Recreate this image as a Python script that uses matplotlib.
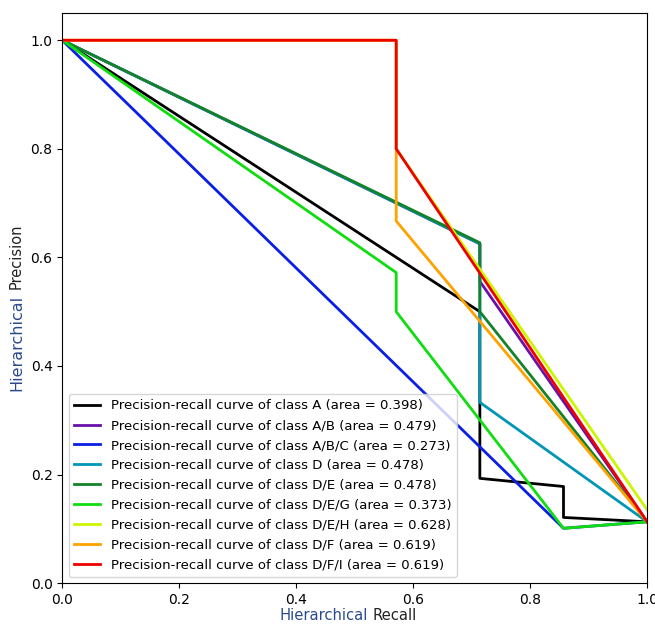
import matplotlib
matplotlib.use("Agg")
import matplotlib.pyplot as plt

OUTPUT_GRAPH_FILE = "out.png"

# class names and their areas, as shown in the legend
classes = ["A", "A/B", "A/B/C", "D", "D/E", "D/E/G", "D/E/H", "D/F", "D/F/I"]
areas = [0.398, 0.479, 0.273, 0.478, 0.478, 0.373, 0.628, 0.619, 0.619]
colors = ["#000000", "#6a10a8", "#0a1ee6", "#0096b4", "#14822a",
          "#10dd10", "#ccf500", "#ffa200", "#ee0000"]

# recall / precision points of each curve
recall_A = [0.0, 0.714, 0.714, 0.857, 0.857, 1.0]
precision_A = [1.0, 0.5, 0.193, 0.178, 0.121, 0.113]

recall_AB = [0.0, 0.714, 0.714, 1.0]
precision_AB = [1.0, 0.625, 0.556, 0.113]

recall_ABC = [0.0, 0.857, 1.0]
precision_ABC = [1.0, 0.101, 0.113]

recall_D = [0.0, 0.714, 0.714, 1.0]
precision_D = [1.0, 0.625, 0.333, 0.113]

recall_DE = [0.0, 0.714, 0.714, 1.0]
precision_DE = [1.0, 0.627, 0.5, 0.113]

recall_DEG = [0.0, 0.571, 0.571, 0.857, 1.0]
precision_DEG = [1.0, 0.572, 0.5, 0.101, 0.113]

recall_DEH = [0.0, 0.571, 0.571, 1.0]
precision_DEH = [1.0, 1.0, 0.8, 0.135]

recall_DF = [0.0, 0.571, 0.571, 1.0]
precision_DF = [1.0, 1.0, 0.667, 0.113]

recall_DFI = [0.0, 0.571, 0.571, 1.0]
precision_DFI = [1.0, 1.0, 0.8, 0.113]

recalls = [recall_A, recall_AB, recall_ABC, recall_D, recall_DE,
           recall_DEG, recall_DEH, recall_DF, recall_DFI]
precisions = [precision_A, precision_AB, precision_ABC, precision_D, precision_DE,
              precision_DEG, precision_DEH, precision_DF, precision_DFI]


def main():
    fig = plt.figure(figsize=(6.55, 6.25), dpi=100)
    ax = fig.add_axes([0.095, 0.067, 0.893, 0.912])

    for i, (name, area) in enumerate(zip(classes, areas)):
        ax.plot(recalls[i], precisions[i], lw=2, color=colors[i],
                label="Precision-recall curve of class {0} (area = {1:0.3f})".format(name, area))

    ax.set_xlim(0.0, 1.0)
    ax.set_ylim(0.0, 1.05)
    ax.tick_params(labelsize=10)

    # axis labels, the first word is tinted in the original
    blue = "#2b4a8c"
    ax.text(0.522, -0.044, "Hierarchical", transform=ax.transAxes,
            ha="right", va="top", fontsize=10.6, color=blue)
    ax.text(0.531, -0.044, "Recall", transform=ax.transAxes,
            ha="left", va="top", fontsize=10.6, color="#222222")
    ax.text(-0.078, 0.505, "Hierarchical", transform=ax.transAxes,
            ha="center", va="top", rotation=90, fontsize=11.5, color=blue)
    ax.text(-0.078, 0.516, "Precision", transform=ax.transAxes,
            ha="center", va="bottom", rotation=90, fontsize=10.5, color="#222222")

    ax.legend(loc="lower left", fontsize=9.5, labelspacing=0.52)
    plt.savefig(OUTPUT_GRAPH_FILE)
    plt.close(fig)


if __name__ == "__main__":
    main()
